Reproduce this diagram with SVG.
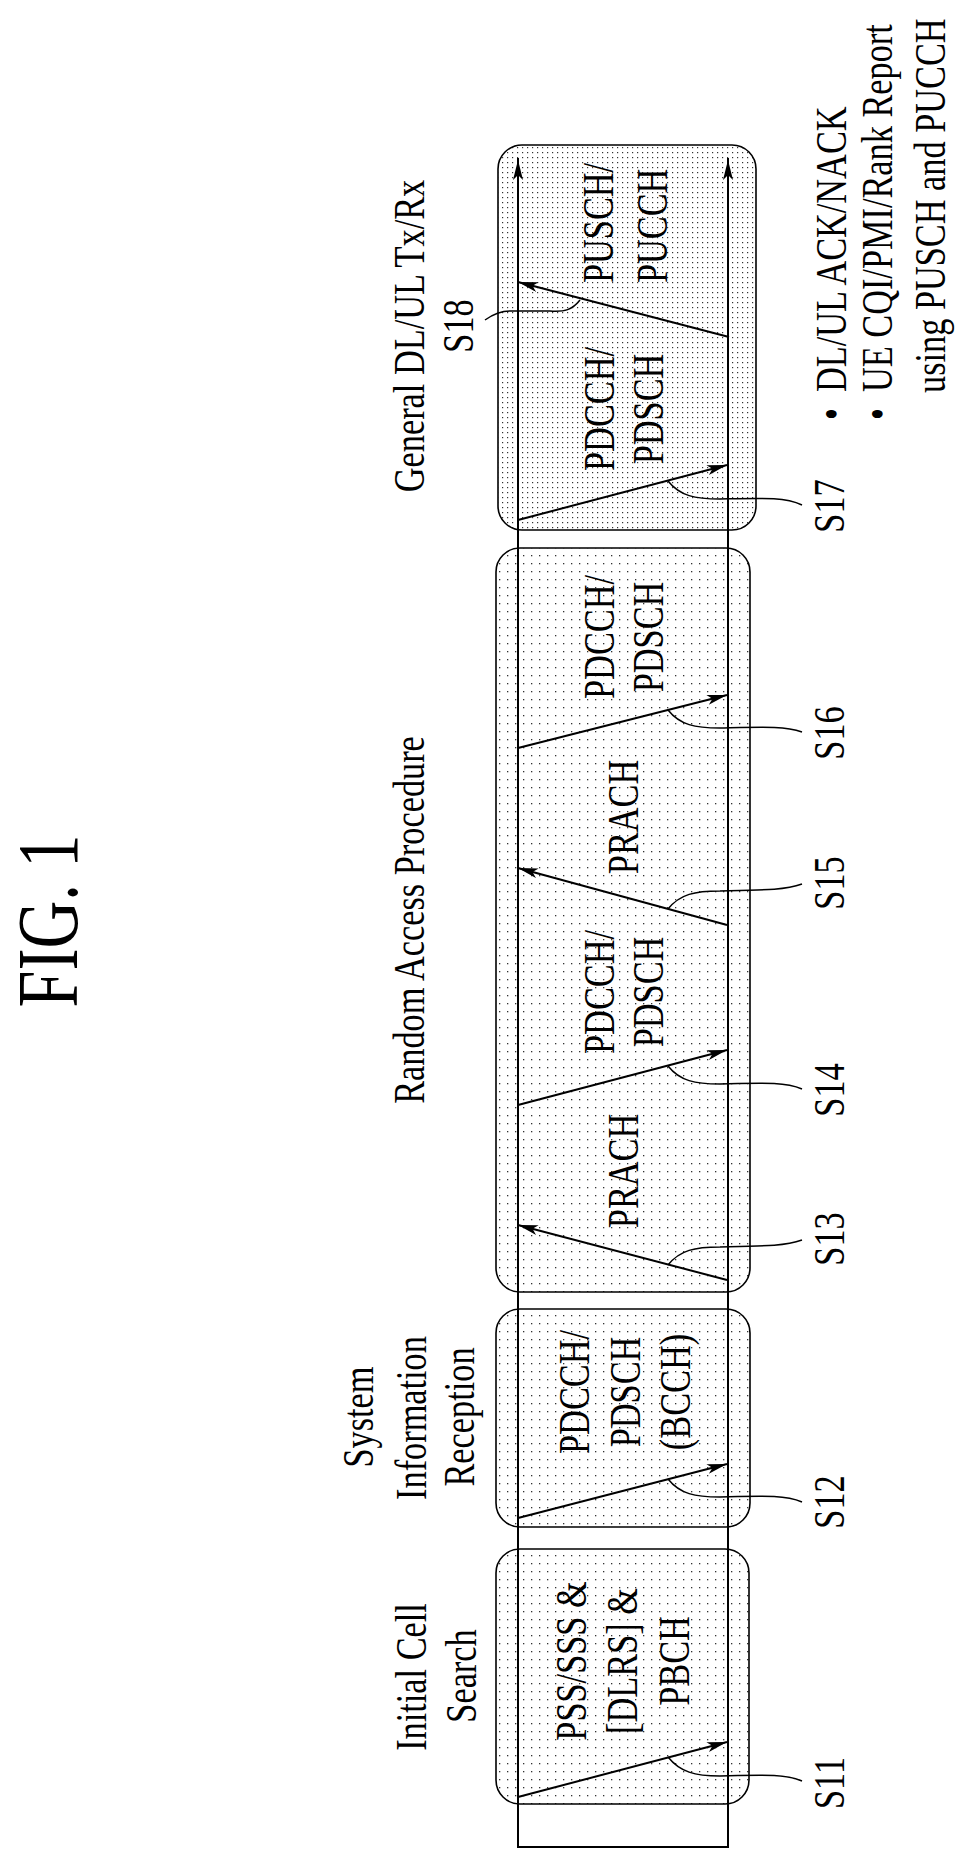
<svg xmlns="http://www.w3.org/2000/svg" width="973" height="1868" viewBox="0 0 973 1868">
<style>
text{font-family:"Liberation Serif","Times New Roman",serif;font-size:44px;fill:#000}
.box{stroke:#000;stroke-width:1.6}
.ln{stroke:#000;stroke-width:2;fill:none}
.ld{stroke:#000;stroke-width:1.5;fill:none}
</style>
<defs>
<pattern id="dots" width="8" height="8" patternUnits="userSpaceOnUse"><rect width="8" height="8" fill="#fff"/><rect x="3" y="3" width="1.3" height="1.3" fill="#333"/></pattern>
<pattern id="dots2" width="5" height="5" patternUnits="userSpaceOnUse"><rect width="5" height="5" fill="#fff"/><rect x="2" y="2" width="1.2" height="1.2" fill="#333"/></pattern>
<marker id="ah" viewBox="0 0 20 10" refX="20" refY="5" markerWidth="20" markerHeight="10" markerUnits="userSpaceOnUse" orient="auto"><path d="M0,0 L20,5 L0,10 L5,5 Z" fill="#000"/></marker>
</defs>
<text transform="translate(77,921) rotate(-90) scale(0.77,1)" text-anchor="middle" style="font-size:86px">FIG. 1</text>
<g id="box1">
<rect class="box" x="496" y="1549" width="253" height="255" rx="24" fill="url(#dots)"/>
<text transform="translate(586,1661) rotate(-90) scale(0.78,1)" text-anchor="middle">PSS/SSS &amp;</text>
<text transform="translate(637,1661) rotate(-90) scale(0.78,1)" text-anchor="middle">[DLRS] &amp;</text>
<text transform="translate(689,1661) rotate(-90) scale(0.78,1)" text-anchor="middle">PBCH</text>
</g>
<g id="box2">
<rect class="box" x="496" y="1309" width="254" height="218" rx="24" fill="url(#dots)"/>
<text transform="translate(589,1392) rotate(-90) scale(0.78,1)" text-anchor="middle">PDCCH/</text>
<text transform="translate(640,1392) rotate(-90) scale(0.78,1)" text-anchor="middle">PDSCH</text>
<text transform="translate(690,1392) rotate(-90) scale(0.78,1)" text-anchor="middle">(BCCH)</text>
</g>
<g id="box3">
<rect class="box" x="496" y="548" width="254" height="744" rx="24" fill="url(#dots)"/>
<text transform="translate(638,1171) rotate(-90) scale(0.78,1)" text-anchor="middle">PRACH</text>
<text transform="translate(614,992) rotate(-90) scale(0.78,1)" text-anchor="middle">PDCCH/</text>
<text transform="translate(663,992) rotate(-90) scale(0.78,1)" text-anchor="middle">PDSCH</text>
<text transform="translate(638,817) rotate(-90) scale(0.78,1)" text-anchor="middle">PRACH</text>
<text transform="translate(614,637) rotate(-90) scale(0.78,1)" text-anchor="middle">PDCCH/</text>
<text transform="translate(663,637) rotate(-90) scale(0.78,1)" text-anchor="middle">PDSCH</text>
</g>
<g id="box4">
<rect class="box" x="498" y="145" width="258" height="385" rx="24" fill="url(#dots2)"/>
<text transform="translate(614,409) rotate(-90) scale(0.78,1)" text-anchor="middle">PDCCH/</text>
<text transform="translate(663,409) rotate(-90) scale(0.78,1)" text-anchor="middle">PDSCH</text>
<text transform="translate(613,283) rotate(-90) scale(0.78,1)" text-anchor="start">PUSCH/</text>
<text transform="translate(667,283) rotate(-90) scale(0.78,1)" text-anchor="start">PUCCH</text>
</g>
<g id="labels">
<text transform="translate(424,336) rotate(-90) scale(0.78,1)" text-anchor="middle">General DL/UL Tx/Rx</text>
<text transform="translate(473,326) rotate(-90) scale(0.78,1)" text-anchor="middle">S18</text>
<text transform="translate(424,920) rotate(-90) scale(0.78,1)" text-anchor="middle">Random Access Procedure</text>
<text transform="translate(373,1417) rotate(-90) scale(0.78,1)" text-anchor="middle">System</text>
<text transform="translate(426,1418) rotate(-90) scale(0.78,1)" text-anchor="middle">Information</text>
<text transform="translate(474,1417) rotate(-90) scale(0.78,1)" text-anchor="middle">Reception</text>
<text transform="translate(426,1677) rotate(-90) scale(0.78,1)" text-anchor="middle">Initial Cell</text>
<text transform="translate(476,1676) rotate(-90) scale(0.78,1)" text-anchor="middle">Search</text>
<text transform="translate(844,1783) rotate(-90) scale(0.78,1)" text-anchor="middle">S11</text>
<text transform="translate(844,1502) rotate(-90) scale(0.78,1)" text-anchor="middle">S12</text>
<text transform="translate(844,1239) rotate(-90) scale(0.78,1)" text-anchor="middle">S13</text>
<text transform="translate(844,1090) rotate(-90) scale(0.78,1)" text-anchor="middle">S14</text>
<text transform="translate(844,883) rotate(-90) scale(0.78,1)" text-anchor="middle">S15</text>
<text transform="translate(844,733) rotate(-90) scale(0.78,1)" text-anchor="middle">S16</text>
<text transform="translate(844,506) rotate(-90) scale(0.78,1)" text-anchor="middle">S17</text>
<text transform="translate(846,420) rotate(-90) scale(0.78,1)" text-anchor="start">•</text>
<text transform="translate(846,392) rotate(-90) scale(0.78,1)" text-anchor="start">DL/UL ACK/NACK</text>
<text transform="translate(892,420) rotate(-90) scale(0.78,1)" text-anchor="start">•</text>
<text transform="translate(892,392) rotate(-90) scale(0.78,1)" text-anchor="start">UE CQI/PMI/Rank Report</text>
<text transform="translate(945,393) rotate(-90) scale(0.78,1)" text-anchor="start">using PUSCH and PUCCH</text>
</g>
<g id="connectors">
<path class="ln" d="M518,158 L518,1847 L728,1847 L728,158"/>
<path class="ln" d="M518,1847 L518,160" marker-end="url(#ah)"/>
<path class="ln" d="M728,1847 L728,160" marker-end="url(#ah)"/>
<line class="ln" x1="518" y1="1797" x2="727" y2="1742" marker-end="url(#ah)"/>
<line class="ln" x1="518" y1="1518" x2="727" y2="1464" marker-end="url(#ah)"/>
<line class="ln" x1="727" y1="1280" x2="518" y2="1225" marker-end="url(#ah)"/>
<line class="ln" x1="518" y1="1105" x2="727" y2="1050" marker-end="url(#ah)"/>
<line class="ln" x1="727" y1="925" x2="518" y2="868" marker-end="url(#ah)"/>
<line class="ln" x1="518" y1="748" x2="727" y2="695" marker-end="url(#ah)"/>
<line class="ln" x1="518" y1="520" x2="727" y2="465" marker-end="url(#ah)"/>
<line class="ln" x1="729" y1="337" x2="518" y2="282" marker-end="url(#ah)"/>
<path class="ld" d="M668,1757 C680,1772 695,1776 720,1776 C765,1775 785,1774 802,1781"/>
<path class="ld" d="M668,1479 C680,1494 695,1497 720,1497 C765,1496 785,1495 802,1502"/>
<path class="ld" d="M668,1265 C680,1250 695,1247 720,1247 C765,1246 785,1246 802,1240"/>
<path class="ld" d="M668,1066 C680,1081 695,1084 720,1084 C765,1083 785,1082 802,1089"/>
<path class="ld" d="M668,909 C680,894 695,891 720,891 C765,890 785,890 802,884"/>
<path class="ld" d="M668,710 C680,725 695,728 720,728 C765,727 785,726 802,732"/>
<path class="ld" d="M668,481 C680,496 695,499 720,499 C765,498 785,497 802,505"/>
<path class="ld" d="M580,300 C572,310 565,312 550,311 L510,311 C500,311 492,315 485,320"/>
</g>
</svg>
